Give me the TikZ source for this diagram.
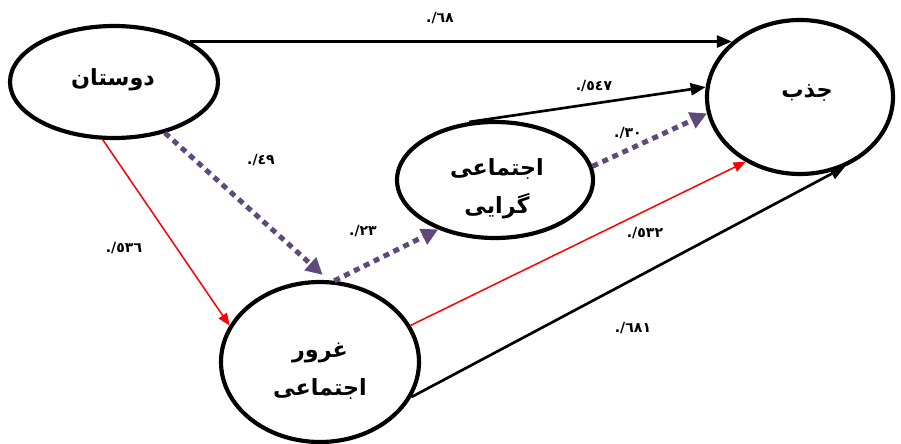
\documentclass[tikz,border=0pt]{standalone}
\usepackage{fontspec}
\usetikzlibrary{arrows.meta,shapes.geometric}
\newfontfamily\arabicfont[Script=Arabic]{DejaVu Sans}
\TeXXeTstate=1
\definecolor{pathpurple}{HTML}{5F497A}

\begin{document}
\begin{tikzpicture}[x=0.3mm,y=-0.3mm,
  construct/.style={ellipse,draw=black,line width=1.25mm,inner sep=0pt},
  varname/.style={align=center,inner sep=0pt,
    font={\arabicfont\bfseries\fontsize{19}{32.5}\selectfont}},
  coef/.style={font={\arabicfont\bfseries\fontsize{12}{14}\selectfont},inner sep=1pt},
  direct/.style={draw=black,line width=.8mm,-{Triangle[length=4.5mm,width=3.6mm]}},
  mediated/.style={draw=pathpurple,line width=1.5mm,dash pattern=on 1.8mm off 1.5mm,
    -{Triangle[length=5mm,width=5mm]}},
  weak/.style={draw=red,line width=.45mm,-{Triangle[length=3.6mm,width=3mm]}}]

\useasboundingbox (0,0) rectangle (901,444);

% constructs
\node[construct,minimum width=62.4mm,minimum height=33.6mm] (friends) at (114,82) {};
\node[construct,minimum width=55.8mm,minimum height=46.2mm] (attract) at (800,97) {};
\node[construct,minimum width=58.8mm,minimum height=34.8mm] (social) at (495,180) {};
\node[construct,minimum width=59.4mm,minimum height=48mm] (pride) at (320,362) {};

\node[varname] (friendsname) at (113,80) {\beginR دوستان\endR};
\node[varname] (attractname) at (807,93) {\beginR جذب\endR};
\node[varname] (socialname) at (497,189) {\beginR اجتماعی\endR\\\beginR گرایی\endR};
\node[varname] (pridename) at (320,371) {\beginR غرور\endR\\\beginR اجتماعی\endR};

% path coefficients
\node[coef] (b1) at (440,18) {٦٨/.};
\node[coef] (b2) at (594,86) {٥٤٧/.};
\node[coef] (b3) at (628,133) {٣٠/.};
\node[coef] (b4) at (261,160) {٤٩/.};
\node[coef] (b5) at (124,248) {٥٣٦/.};
\node[coef] (b6) at (363,231) {٢٣/.};
\node[coef] (b7) at (645,233) {٥٣٢/.};
\node[coef] (b8) at (633,328) {٦٨١/.};

\draw[direct] (friends.28) -- (attract.141 |- friends.28);
\draw[direct] (social.114) -- (attract.174);
\draw[mediated] (social.8) -- (attract.-170);
\draw[mediated,shorten >=2.4mm] (friends.-45) -- (pride.84);
\draw[mediated] (pride.80) -- (social.-139);
\draw[weak] (friends.-101) -- (pride.158);
\draw[weak] (pride.22) -- (attract.-130);
\draw[direct] (pride.-21) -- (attract.-57);
\end{tikzpicture}
\end{document}
